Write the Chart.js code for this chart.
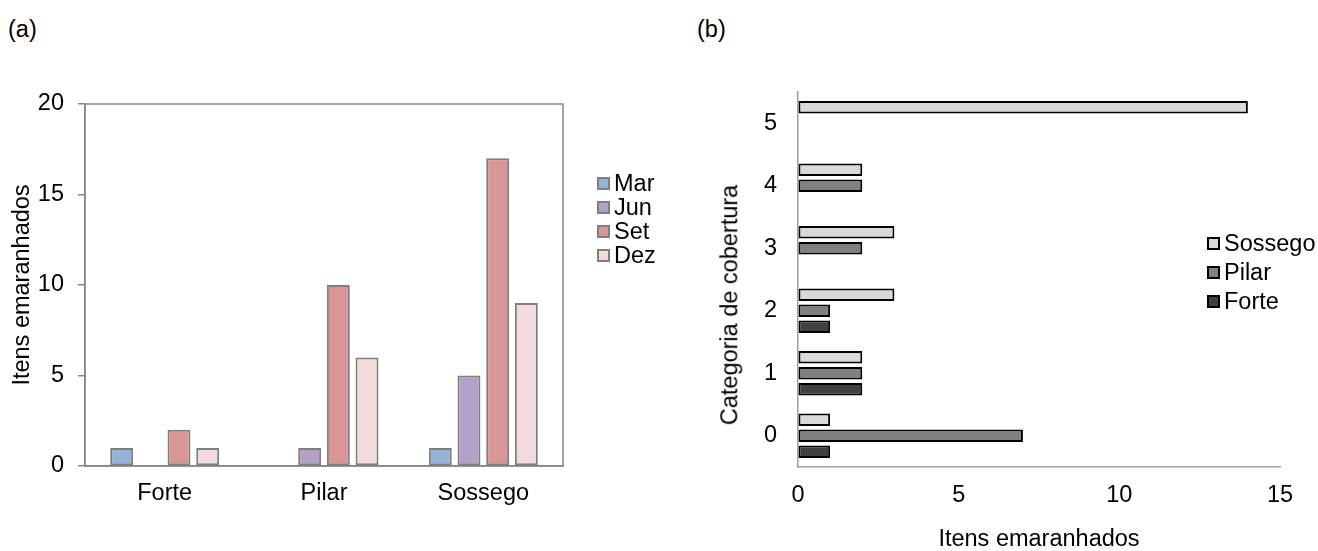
<!DOCTYPE html>
<html>
<head>
<meta charset="utf-8">
<script src="https://cdn.jsdelivr.net/npm/chart.js@4.4.0/dist/chart.umd.min.js"></script>
<style>
  body { margin: 0; background: #fff; width: 1318px; height: 551px; overflow: hidden; position: relative;
         font-family: 'Liberation Sans', Arial, sans-serif; }
  canvas { position: absolute; top: 0; }
  #graficoA { left: 0; }
  #graficoB { left: 690px; }
  .painel { position: absolute; font-size: 23.5px; color: #000; line-height: 1; }
  .legenda { position: absolute; font-size: 23.5px; color: #000; }
  .legenda div { display: flex; align-items: center; }
  .legenda .cx { width: 13px; height: 13px; box-sizing: border-box; margin-right: 4px; }
  #tituloYB { position: absolute; font-size: 23.5px; white-space: nowrap; line-height: 1;
              left: 730px; top: 305px; transform: translate(-50%, -50%) rotate(-90deg); }
</style>
</head>
<body>
<div class="painel" style="left:8px; top:18px">(a)</div>
<div class="painel" style="left:697px; top:18px">(b)</div>
<canvas id="graficoA" width="600" height="551"></canvas>
<canvas id="graficoB" width="628" height="551"></canvas>
<div id="legendaA" class="legenda" style="left:597px; top:171px"></div>
<div id="legendaB" class="legenda" style="left:1207px; top:229px"></div>
<div id="tituloYB">Categoria de cobertura</div>
<script>
// (a) itens por local e mes
const locais = ['Forte', 'Pilar', 'Sossego'];
const meses = ['Mar', 'Jun', 'Set', 'Dez'];
const valMar = [1, 0, 1];
const valJun = [0, 1, 5];
const valSet = [2, 10, 17];
const valDez = [1, 6, 9];
const coresMeses = ['#95B3D7', '#B3A2C7', '#D99694', '#F2DCDB'];

// (b) itens por categoria de cobertura
const categorias = ['0', '1', '2', '3', '4', '5'];
const locaisB = ['Sossego', 'Pilar', 'Forte'];
const valSossego = [1, 2, 3, 3, 2, 14];
const valPilar = [7, 2, 1, 2, 2, 0];
const valForte = [1, 2, 1, 0, 0, 0];
const coresLocais = ['#D9D9D9', '#808080', '#404040'];

Chart.defaults.font.family = "'Liberation Sans', Arial, sans-serif";
Chart.defaults.font.size = 23.5;
Chart.defaults.color = '#000';

// legenda em HTML a partir dos datasets
const legendaHtml = {
    id: 'legendaHtml',
    afterUpdate(chart, args, opts) {
        const box = document.getElementById(opts.containerID);
        box.innerHTML = '';
        chart.options.plugins.legend.labels.generateLabels(chart).forEach(item => {
            const linha = document.createElement('div');
            linha.style.height = opts.rowHeight + 'px';
            const cx = document.createElement('span');
            cx.className = 'cx';
            cx.style.background = item.fillStyle;
            cx.style.border = item.lineWidth + 'px solid ' + item.strokeStyle;
            const txt = document.createElement('span');
            txt.textContent = item.text;
            linha.appendChild(cx);
            linha.appendChild(txt);
            box.appendChild(linha);
        });
    }
};

// moldura em volta da area do grafico
const moldura = {
    id: 'moldura',
    afterDraw(chart, args, opts) {
        if (!opts.color) return;
        const { ctx, chartArea: a } = chart;
        ctx.save();
        ctx.strokeStyle = opts.color;
        ctx.lineWidth = opts.width;
        ctx.strokeRect(a.left, a.top, a.right - a.left, a.bottom - a.top);
        ctx.restore();
    }
};

const valoresMeses = [valMar, valJun, valSet, valDez];

new Chart(document.getElementById('graficoA'), {
    type: 'bar',
    data: {
        labels: locais,
        datasets: meses.map((m, i) => ({
            label: m,
            data: valoresMeses[i],
            backgroundColor: coresMeses[i],
            borderColor: '#7F7F7F',
            borderWidth: 2,
            borderSkipped: false,
            inflateAmount: 0,
            categoryPercentage: 0.72,
            barPercentage: 0.8
        }))
    },
    options: {
        responsive: false,
        animation: false,
        layout: { padding: { top: 104, right: 37, bottom: 25, left: 0 } },
        plugins: {
            legend: { display: false },
            tooltip: { enabled: false },
            legendaHtml: { containerID: 'legendaA', rowHeight: 24 },
            moldura: { color: '#868686', width: 1.5 }
        },
        scales: {
            x: {
                grid: { display: true, drawOnChartArea: false, drawTicks: false },
                border: { color: '#868686', width: 1.5 },
                ticks: { padding: 13 },
                afterFit: s => { s.height = 60; }
            },
            y: {
                min: 0, max: 20,
                ticks: { stepSize: 5, padding: 14 },
                grid: { drawOnChartArea: false, drawTicks: true, tickLength: 7, color: '#868686', lineWidth: 1.5 },
                border: { color: '#868686', width: 1.5 },
                title: { display: true, text: 'Itens emaranhados', padding: { top: 8, bottom: 0 } },
                afterFit: s => { s.width = 85; }
            }
        }
    },
    plugins: [legendaHtml, moldura]
});

const valoresLocais = [valSossego, valPilar, valForte];

new Chart(document.getElementById('graficoB'), {
    type: 'bar',
    data: {
        labels: categorias,
        datasets: locaisB.map((l, i) => ({
            label: l,
            data: valoresLocais[i],
            backgroundColor: coresLocais[i],
            borderColor: '#000',
            borderWidth: 2,
            borderSkipped: false,
            inflateAmount: 0,
            categoryPercentage: 0.77,
            barPercentage: 0.78
        }))
    },
    options: {
        indexAxis: 'y',
        responsive: false,
        animation: false,
        layout: { padding: { top: 92, right: 38, bottom: 0, left: 0 } },
        plugins: {
            legend: { display: false },
            tooltip: { enabled: false },
            legendaHtml: { containerID: 'legendaB', rowHeight: 29 }
        },
        scales: {
            x: {
                min: 0, max: 15,
                ticks: { stepSize: 5, padding: 14 },
                grid: { display: true, drawOnChartArea: false, drawTicks: false },
                border: { color: '#A0A0A0', width: 1.5 },
                title: { display: true, text: 'Itens emaranhados', font: { lineHeight: 1 }, padding: 0 },
                afterFit: s => { s.height = 84; }
            },
            y: {
                reverse: true,
                ticks: { padding: 21 },
                grid: { display: true, drawOnChartArea: false, drawTicks: false },
                border: { color: '#A0A0A0', width: 1.5 },
                afterFit: s => { s.width = 108; }
            }
        }
    },
    plugins: [legendaHtml]
});
</script>
</body>
</html>
